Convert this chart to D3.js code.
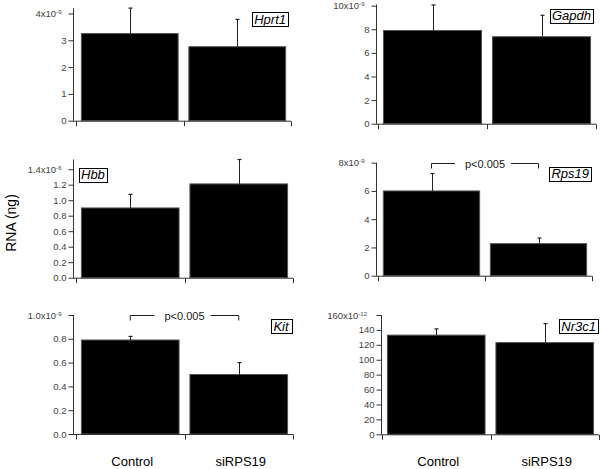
<!DOCTYPE html>
<html>
<head>
<meta charset="utf-8">
<script src="https://cdn.jsdelivr.net/npm/d3@7"></script>
<style>
  body { margin: 0; background: #fff; }
  svg { display: block; font-family: "Liberation Sans", Arial, sans-serif; }
</style>
</head>
<body>
<div id="chart"></div>
<script>
// data
var genes = ["Hprt1", "Gapdh", "Hbb", "Rps19", "Kit", "Nr3c1"];
var groups = ["Control", "siRPS19"];
var means = [[3.25, 2.76], [7.9, 7.37], [0.90, 1.21], [6.0, 2.27], [0.79, 0.50], [133, 123]];
var errs = [[0.95, 1.02], [2.16, 1.82], [0.175, 0.315], [1.23, 0.40], [0.03, 0.10], [8.4, 25.5]];
var exponents = [-9, -9, -6, -9, -9, -12];
var yTicks = [
    [0, 1, 2, 3, 4],
    [0, 2, 4, 6, 8, 10],
    [0, 0.2, 0.4, 0.6, 0.8, 1.0, 1.2, 1.4],
    [0, 2, 4, 6, 8],
    [0, 0.2, 0.4, 0.6, 0.8, 1.0],
    [0, 20, 40, 60, 80, 100, 120, 140, 160]
];
var yTop = [4.2, 10.1, 1.525, 8, 1, 160];
var tickDigits = [0, 0, 1, 0, 1, 0];
var significance = [null, null, null, "p<0.005", "p<0.005", null];

// panel geometry: y axis x, x axis start/end, y of zero, y of top of axis
var panels = [
    {ax: 73, x0: 76, x1: 291, y0: 120.7, y1: 8.1, lab: "tr"},
    {ax: 376, x0: 378, x1: 596, y0: 123.7, y1: 4.5, lab: "tr"},
    {ax: 73, x0: 76, x1: 293, y0: 277.7, y1: 159.5, lab: "tl"},
    {ax: 376, x0: 378, x1: 592, y0: 275.7, y1: 162.7, lab: "tr2"},
    {ax: 73, x0: 76, x1: 293, y0: 434, y1: 315, lab: "tr2"},
    {ax: 381, x0: 382, x1: 599, y0: 434.3, y1: 315, lab: "tr2"}
];

var svg = d3.select("#chart").append("svg")
    .attr("width", 600)
    .attr("height", 469);

var axisColor = "#333";

panels.forEach(function (p, k) {
    var g = svg.append("g");

    var x = d3.scaleBand()
        .domain(groups)
        .range([p.x0, p.x1])
        .paddingInner(0.1)
        .paddingOuter(0.05);

    var y = d3.scaleLinear()
        .domain([0, yTop[k]])
        .range([p.y0, p.y1]);

    // bars
    g.selectAll(".bar")
        .data(groups)
        .enter().append("rect")
        .attr("x", function (d) { return x(d); })
        .attr("y", function (d, i) { return y(means[k][i]); })
        .attr("width", x.bandwidth())
        .attr("height", function (d, i) { return y(0) - y(means[k][i]); })
        .style("fill", "#000")
        .style("stroke", "#555")
        .style("stroke-width", 1);

    // error bars (upper only)
    groups.forEach(function (d, i) {
        var cx = Math.round(x(d) + x.bandwidth() / 2) + 0.5;
        var top = y(means[k][i] + errs[k][i]);
        g.append("line")
            .attr("x1", cx).attr("x2", cx)
            .attr("y1", y(means[k][i])).attr("y2", top)
            .style("stroke", "#222").style("stroke-width", 1);
        g.append("line")
            .attr("x1", cx - 2).attr("x2", cx + 2)
            .attr("y1", top).attr("y2", top)
            .style("stroke", "#222").style("stroke-width", 1.2);
    });

    // y axis
    var fmt = d3.format("." + tickDigits[k] + "f");
    var yAxis = d3.axisLeft(y)
        .tickValues(yTicks[k])
        .tickSize(5)
        .tickPadding(2)
        .tickFormat(function (d) { return fmt(d); });

    var ya = g.append("g")
        .attr("transform", "translate(" + (p.ax + 0.5) + ",0)")
        .call(yAxis);
    ya.select(".domain").attr("d", "M0," + y.range()[0] + "V" + y.range()[1]);

    // top tick gets the exponent
    var topVal = yTicks[k][yTicks[k].length - 1];
    ya.selectAll(".tick text")
        .filter(function (d) { return d === topVal; })
        .each(function () {
            var t = d3.select(this);
            t.text(fmt(topVal) + "x10");
            t.append("tspan")
                .attr("dy", "-0.5em")
                .style("font-size", "6px")
                .text(exponents[k]);
            t.attr("dx", "-" + (String(exponents[k]).length * 2.5) + "px");
        });

    // x axis
    var xa = g.append("g")
        .attr("transform", "translate(0," + (p.y0 + 0.5) + ")");
    xa.append("line")
        .attr("x1", p.ax).attr("x2", p.x1)
        .style("stroke", axisColor);
    [p.x0, (p.x0 + p.x1) / 2, p.x1].forEach(function (tx) {
        xa.append("line")
            .attr("x1", Math.round(tx) + 0.5).attr("x2", Math.round(tx) + 0.5)
            .attr("y1", 0).attr("y2", 5)
            .style("stroke", axisColor);
    });

    ya.selectAll(".domain, .tick line").style("stroke", axisColor);
    ya.selectAll(".tick text")
        .style("font-size", "9.5px")
        .style("font-family", "'Liberation Sans', Arial, sans-serif")
        .style("fill", "#444");

    // gene label in a box
    var lbl = g.append("g");
    var lt = lbl.append("text")
        .text(genes[k])
        .style("font-size", "13px")
        .style("font-style", "italic")
        .style("fill", "#000");
    var bb = lt.node().getBBox();
    var bx, by;
    if (p.lab === "tl") {
        bx = p.x0 + 3; by = p.y1 + 8;
    } else if (p.lab === "tr") {
        bx = p.x1 - 7 - bb.width; by = p.y1 + 4;
    } else {
        bx = p.x1 - 5 - bb.width; by = p.y1 + 4;
    }
    lt.attr("x", bx + 2).attr("y", by + 11.5);
    lbl.insert("rect", "text")
        .attr("x", Math.round(bx) + 0.5).attr("y", Math.round(by) + 0.5)
        .attr("width", Math.round(bb.width + 4)).attr("height", 14)
        .style("fill", "#fff")
        .style("stroke", "#000");

    // significance bracket
    if (significance[k]) {
        var lx = x(groups[0]) + x.bandwidth() / 2;
        var rx = x(groups[1]) + x.bandwidth() / 2;
        var by2 = Math.round(y(yTop[k])) + 0.5;
        var mid = (lx + rx) / 2;
        var st = g.append("text")
            .attr("x", mid).attr("y", by2 + 4)
            .attr("text-anchor", "middle")
            .style("font-size", "11px")
            .style("fill", "#222")
            .text(significance[k]);
        var tw = st.node().getBBox().width;
        g.append("path")
            .attr("d", "M" + lx + "," + (by2 + 5) + "V" + by2 + "H" + (mid - tw / 2 - 10))
            .style("fill", "none").style("stroke", "#222");
        g.append("path")
            .attr("d", "M" + (mid + tw / 2 + 6) + "," + by2 + "H" + rx + "V" + (by2 + 5))
            .style("fill", "none").style("stroke", "#222");
    }

    // category labels under bottom row
    if (k >= 4) {
        g.selectAll(".cat")
            .data(groups)
            .enter().append("text")
            .attr("x", function (d) { return x(d) + x.bandwidth() / 2 + 2; })
            .attr("y", 466)
            .attr("text-anchor", "middle")
            .style("font-size", "13px")
            .style("fill", "#000")
            .text(function (d) { return d; });
    }
});

svg.append("text")
    .attr("transform", "translate(16,223) rotate(-90)")
    .attr("text-anchor", "middle")
    .style("font-size", "14px")
    .text("RNA (ng)");
</script>
</body>
</html>
